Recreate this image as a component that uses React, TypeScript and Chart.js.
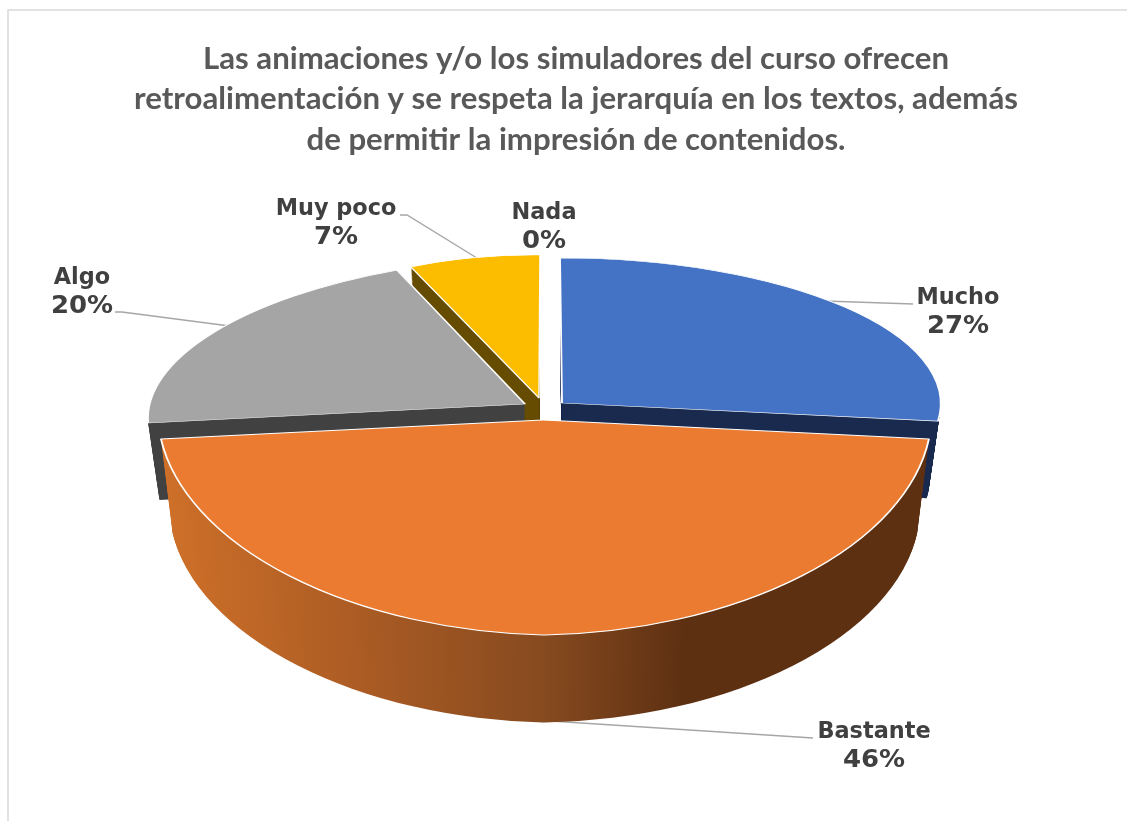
import React, { useEffect, useRef } from "react";
import { Chart, registerables } from "chart.js";

Chart.register(...registerables);

const categories = ["Mucho", "Bastante", "Algo", "Muy poco", "Nada"];
const seriesValues = [27, 46, 20, 7, 0];
const titleLines = [
  "Las animaciones y/o los simuladores del curso ofrecen",
  "retroalimentación y se respeta la jerarquía en los textos, además",
  "de permitir la impresión de contenidos.",
];
const faceColors = ["#4472C4", "#EB7B30", "#A5A5A5", "#FCBD00", "#5B9BD5"];
const sideColors = ["#1A2B4F", "", "#424242", "#654C00", "#1A2B4F"];

// Faked 3-D view: each slice is drawn through an affine pose {apex, matrix a,b,c,d}
type Pose = { a: number; b: number; c: number; d: number; clip?: "L" | "R" };
const VIEW_RADIUS = 380;
const SHRINK = 0.03;
const apexes = [
  [562, 403],
  [543, 420],
  [525, 404],
  [539, 398],
  [540, 400],
];
const depths = [77.5, 94, 77.5, 77.5, 77.5];
const poses: Pose[][] = [
  [{ a: 0.9967, b: 0, c: 0.00526, d: 0.3816 }],
  [
    { a: 1.023, b: -0.021, c: 0.00526, d: 0.5658, clip: "R" },
    { a: 1.014, b: 0.021, c: 0.00526, d: 0.5658, clip: "L" },
  ],
  [{ a: 0.988, b: -0.0011, c: -0.0925, d: 0.39 }],
  [{ a: 0.797, b: 0.0099, c: -0.0026, d: 0.3763 }],
  [{ a: 1, b: 0, c: 0, d: 0.38 }],
];
const drawOrder = [3, 0, 2, 1];

const LABEL_FONT = 'bold 22.4px "DejaVu Sans"';
const PERCENT_STRETCH_X = 1.16;
const PERCENT_STRETCH_Y = 1.07;
const labelAnchors = [
  [958, 298],
  [874, 732],
  [82, 278],
  [336, 209],
  [544, 213],
];
const leaders = [
  [[795, 300], [913, 304]],
  [[535, 720], [813, 738]],
  [[115, 312], [122, 312], [245, 328]],
  [[400, 215], [407, 215], [485, 263]],
];

function arcOptions(base: any, fill: any, border: number) {
  return {
    ...base,
    backgroundColor: fill,
    borderColor: "#FFFFFF",
    borderWidth: border,
    borderAlign: "center",
    borderJoinStyle: "round",
    borderRadius: 0,
    borderDash: [],
    borderDashOffset: 0,
    offset: 0,
    spacing: 0,
    circular: true,
    selfJoin: false,
  };
}

function drawPosed(ctx: CanvasRenderingContext2D, el: any, i: number, depth: number, shrink: number) {
  const [ax, ay] = apexes[i];
  const k = VIEW_RADIUS / el.outerRadius;
  for (const p of poses[i]) {
    ctx.save();
    if (p.clip) {
      ctx.beginPath();
      if (p.clip === "R") ctx.rect(ax, 0, 1127 - ax, 821);
      else ctx.rect(0, 0, ax, 821);
      ctx.clip();
    }
    ctx.translate(ax, ay + depth);
    ctx.scale(shrink, shrink);
    ctx.transform(p.a, p.b, p.c, p.d, 0, 0);
    ctx.scale(k, k);
    ctx.translate(-el.x, -el.y);
    el.draw(ctx);
    ctx.restore();
  }
}

const pie3dPlugin = {
  id: "pie3d",
  beforeDraw(chart: any) {
    const ctx = chart.ctx;
    ctx.save();
    ctx.fillStyle = "#FFFFFF";
    ctx.fillRect(0, 0, chart.width, chart.height);
    ctx.strokeStyle = "#D9D9D9";
    ctx.lineWidth = 1.5;
    ctx.beginPath();
    ctx.moveTo(8, chart.height);
    ctx.lineTo(8, 10);
    ctx.lineTo(chart.width, 10);
    ctx.stroke();
    ctx.restore();
  },
  beforeDatasetsDraw(chart: any) {
    const ctx: CanvasRenderingContext2D = chart.ctx;
    ctx.save();
    ctx.strokeStyle = "#A6A6A6";
    ctx.lineWidth = 1.4;
    for (const line of leaders) {
      ctx.beginPath();
      line.forEach(([x, y], n) => (n ? ctx.lineTo(x, y) : ctx.moveTo(x, y)));
      ctx.stroke();
    }
    ctx.restore();
  },
  beforeDatasetDraw(chart: any) {
    const ctx: CanvasRenderingContext2D = chart.ctx;
    const meta = chart.getDatasetMeta(0);
    for (const i of drawOrder) {
      const el = meta.data[i];
      const original = el.options;
      let sideFill: any = sideColors[i];
      if (!sideFill) {
        const g = ctx.createLinearGradient(el.x - el.outerRadius, 0, el.x + el.outerRadius, 0);
        g.addColorStop(0, "#CE7029");
        g.addColorStop(0.25, "#AC5C24");
        g.addColorStop(0.5, "#864A1F");
        g.addColorStop(0.68, "#5E3012");
        g.addColorStop(1, "#5E3012");
        sideFill = g;
      }
      el.options = arcOptions(original, sideFill, 0);
      const steps = Math.ceil(depths[i]);
      for (let s = steps; s >= 1; s--) {
        const t = s / steps;
        drawPosed(ctx, el, i, depths[i] * t, 1 - SHRINK * t);
      }
      el.options = arcOptions(original, faceColors[i], 1.6);
      drawPosed(ctx, el, i, 0, 1);
      el.options = original;
    }
    return false;
  },
  afterDatasetsDraw(chart: any) {
    const ctx: CanvasRenderingContext2D = chart.ctx;
    ctx.save();
    const total = seriesValues.reduce((a, b) => a + b, 0);
    ctx.fillStyle = "#404040";
    ctx.font = LABEL_FONT;
    ctx.textAlign = "center";
    ctx.textBaseline = "middle";
    categories.forEach((name, i) => {
      const [x, y] = labelAnchors[i];
      ctx.fillText(name, x, y);
      ctx.save();
      ctx.translate(x, y + 29);
      ctx.scale(PERCENT_STRETCH_X, PERCENT_STRETCH_Y);
      ctx.fillText(`${Math.round((seriesValues[i] / total) * 100)}%`, 0, 0);
      ctx.restore();
    });
    ctx.restore();
  },
};

export default function App() {
  const ref = useRef<HTMLCanvasElement>(null);
  useEffect(() => {
    document.body.style.margin = "0";
    const chart = new Chart(ref.current!, {
      type: "pie",
      data: {
        labels: categories,
        datasets: [{ data: seriesValues, backgroundColor: faceColors, borderWidth: 0 }],
      },
      options: {
        responsive: false,
        animation: false,
        layout: { padding: { left: 25, top: 39 } },
        plugins: {
          legend: { display: false },
          tooltip: { enabled: false },
          title: {
            display: true,
            text: titleLines,
            color: "#595959",
            font: { family: "Lato", weight: "bold", size: 31.2, lineHeight: 1.29 },
            padding: { top: 0, bottom: 10 },
          },
        },
      },
      plugins: [pie3dPlugin],
    } as any);
    return () => chart.destroy();
  }, []);
  return (
    <div style={{ position: "absolute", left: 0, top: 0, width: 1127, height: 821, overflow: "hidden" }}>
      <canvas ref={ref} width={1127} height={821} style={{ display: "block" }} />
    </div>
  );
}
